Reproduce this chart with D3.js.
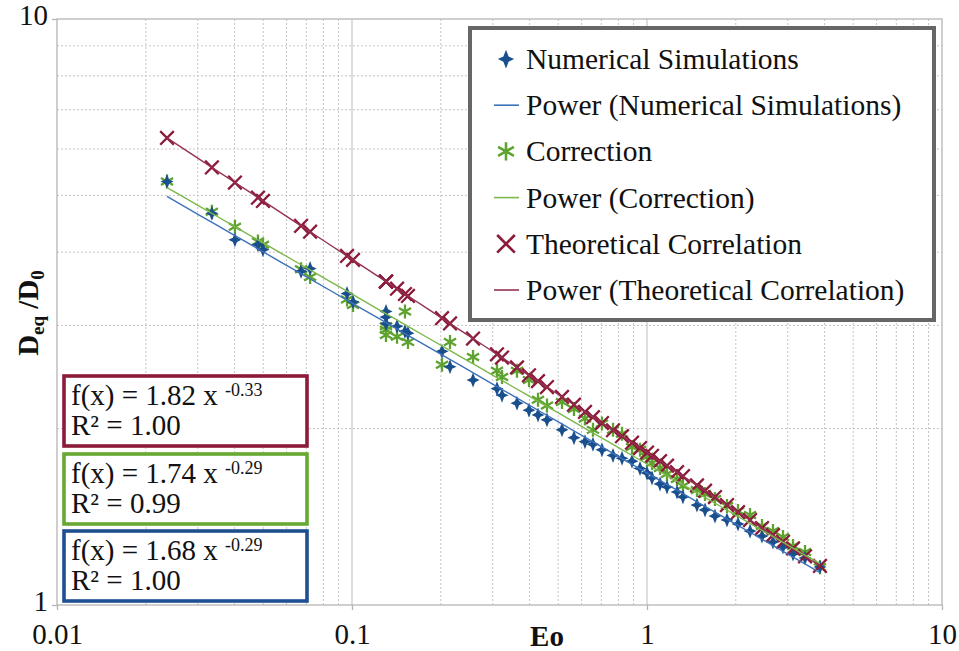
<!DOCTYPE html>
<html>
<head>
<meta charset="utf-8">
<script src="https://cdn.jsdelivr.net/npm/d3@7"></script>
<style>
  html, body { margin: 0; padding: 0; background: #fff; }
  svg { display: block; }
  svg text { font-family: "Liberation Serif", "DejaVu Serif", serif !important; }
</style>
</head>
<body>
<script>
// Eötvös number samples shared by the three series
const eo = [0.0236, 0.0335, 0.0401, 0.0480, 0.0499, 0.0672, 0.0721, 0.0962, 0.1008,
  0.1304, 0.1304, 0.1304, 0.1421, 0.1512, 0.1548, 0.2019, 0.2149, 0.2572, 0.3101,
  0.3225, 0.3625, 0.3981, 0.4271, 0.4581, 0.5151, 0.5655, 0.6163, 0.6559, 0.7037,
  0.7670, 0.8229, 0.8895, 0.9469, 1.000, 1.040, 1.107, 1.169, 1.264, 1.324, 1.477,
  1.573, 1.700, 1.867, 2.035, 2.235, 2.454, 2.673, 2.891, 3.126, 3.433, 3.858];

const numerical = [5.28, 4.66, 4.20, 4.12, 4.04, 3.71, 3.75, 3.40, 3.29, 3.17, 3.10,
  3.02, 2.99, 2.93, 2.91, 2.71, 2.55, 2.42, 2.34, 2.28, 2.21, 2.15, 2.11, 2.07, 1.99,
  1.93, 1.90, 1.88, 1.84, 1.80, 1.78, 1.76, 1.71, 1.68, 1.647, 1.609, 1.590, 1.559,
  1.529, 1.481, 1.453, 1.418, 1.397, 1.375, 1.337, 1.311, 1.281, 1.256, 1.222, 1.203, 1.161];

const correction = [5.28, 4.69, 4.42, 4.17, 4.12, 3.74, 3.63, 3.32, 3.25, 2.95, 2.89,
  2.99, 2.87, 3.17, 2.81, 2.57, 2.81, 2.65, 2.51, 2.45, 2.51, 2.42, 2.24, 2.19, 2.22,
  2.16, 2.08, 1.99, 2.04, 1.99, 1.96, 1.86, 1.84, 1.79, 1.747, 1.713, 1.673, 1.641,
  1.596, 1.571, 1.547, 1.517, 1.475, 1.447, 1.424, 1.364, 1.337, 1.306, 1.261, 1.231, 1.16];

const theoretical = [6.266, 5.581, 5.259, 4.956, 4.893, 4.437, 4.336, 3.941, 3.881,
  3.564, 3.564, 3.564, 3.465, 3.394, 3.368, 3.086, 3.023, 2.849, 2.678, 2.644, 2.544,
  2.466, 2.410, 2.355, 2.265, 2.197, 2.135, 2.092, 2.044, 1.987, 1.941, 1.892, 1.853,
  1.820, 1.797, 1.760, 1.729, 1.685, 1.659, 1.600, 1.567, 1.528, 1.481, 1.440, 1.396,
  1.353, 1.316, 1.282, 1.249, 1.211, 1.166];

// Power-law trendlines f(x) = a * x^b and their R² values
const fitNames = ["Theoretical Correlation", "Correction", "Numerical Simulations"];
const fitA = [1.82, 1.74, 1.68];
const fitB = [-0.33, -0.29, -0.29];
const fitR2 = ["1.00", "0.99", "1.00"];

const xTicks = [0.01, 0.1, 1, 10];
const yTicks = [1, 10];
const legendLabels = ["Numerical Simulations", "Power (Numerical Simulations)", "Correction",
  "Power (Correction)", "Theoretical Correlation", "Power (Theoretical Correlation)"];

const W = 959, H = 651;
const col = {
  num: "#1a4f8e", numLine: "#3d72ba",
  cor: "#5ea22f", corLine: "#7cb84b",
  the: "#8c1b3a", theLine: "#933253"
};

const svg = d3.select("body").append("svg").attr("width", W).attr("height", H);

const x = d3.scaleLog().domain([0.01, 10]).range([57, 942]);
const y = d3.scaleLog().domain([1, 10]).range([605, 19]);

// minor grid (2..9 within each decade), dotted
const minorX = [], minorY = [];
for (let e = -2; e < 1; e++) for (let k = 2; k <= 9; k++) minorX.push(k * Math.pow(10, e));
for (let k = 2; k <= 9; k++) minorY.push(k);

const grid = svg.append("g");
grid.selectAll(".mx").data(minorX).join("line")
  .attr("x1", d => x(d)).attr("x2", d => x(d)).attr("y1", y(1)).attr("y2", y(10))
  .attr("stroke", "#c4c4c4").attr("stroke-width", 1).attr("stroke-dasharray", "2,2");
grid.selectAll(".my").data(minorY).join("line")
  .attr("y1", d => y(d)).attr("y2", d => y(d)).attr("x1", x(0.01)).attr("x2", x(10))
  .attr("stroke", "#c4c4c4").attr("stroke-width", 1).attr("stroke-dasharray", "2,2");
// major grid
grid.selectAll(".Mx").data([0.1, 1]).join("line")
  .attr("x1", d => x(d)).attr("x2", d => x(d)).attr("y1", y(1)).attr("y2", y(10))
  .attr("stroke", "#c8c8c8").attr("stroke-width", 1.2);

// plot frame
svg.append("rect").attr("x", x(0.01)).attr("y", y(10))
  .attr("width", x(10) - x(0.01)).attr("height", y(1) - y(10))
  .attr("fill", "none").attr("stroke", "#b5b5b5").attr("stroke-width", 1.3);

// axes
const fmt = d3.format("~g");
const xAxis = svg.append("g").attr("transform", `translate(0,${y(1)})`)
  .call(d3.axisBottom(x).tickValues(xTicks).tickFormat(fmt).tickSize(5).tickPadding(13));
const yAxis = svg.append("g").attr("transform", `translate(${x(0.01)},0)`)
  .call(d3.axisLeft(y).tickValues(yTicks).tickFormat(fmt).tickSize(5).tickPadding(4));
[xAxis, yAxis].forEach(g => {
  g.select(".domain").remove();
  g.selectAll(".tick line").attr("stroke", "#b5b5b5").attr("stroke-width", 1.3);
  g.selectAll(".tick text").attr("font-size", 29).attr("fill", "#111");
});
yAxis.selectAll(".tick text").attr("dy", "0.18em");

// axis titles
svg.append("text").attr("x", 547).attr("y", 646).attr("text-anchor", "middle")
  .attr("font-size", 29).attr("font-weight", "bold").attr("fill", "#111").text("Eo");

const yt = svg.append("text").attr("transform", "translate(38,313) rotate(-90)")
  .attr("text-anchor", "middle").attr("font-size", 29).attr("font-weight", "bold").attr("fill", "#111");
yt.append("tspan").text("D");
yt.append("tspan").attr("font-size", 19).attr("dy", 6).text("eq");
yt.append("tspan").attr("dy", -6).text(" /D");
yt.append("tspan").attr("font-size", 19).attr("dy", 6).text("0");

// marker shapes
const starPath = (s) => {
  const h = 7.5 * s, w = 6.5 * s, r = 2.1 * s;
  return `M0,${-h}L${r},${-r}L${w},0L${r},${r}L0,${h}L${-r},${r}L${-w},0L${-r},${-r}Z`;
};
const asteriskPath = (s) => {
  const r = 7 * s, cx = r * Math.cos(Math.PI / 6), cy = r * Math.sin(Math.PI / 6);
  return `M0,${-r}L0,${r}M${-cx},${-cy}L${cx},${cy}M${-cx},${cy}L${cx},${-cy}`;
};
const crossPath = (s) => {
  const r = 6.8 * s;
  return `M${-r},${-r}L${r},${r}M${-r},${r}L${r},${-r}`;
};

const plot = svg.append("g");
const pts = (vals) => eo.map((e, i) => [e, vals[i]]);
const xMin = d3.min(eo), xMax = d3.max(eo);
const trend = (a, b) => d3.range(0, 41).map(i => {
  const xv = Math.pow(10, Math.log10(xMin) + (Math.log10(xMax) - Math.log10(xMin)) * i / 40);
  return [xv, a * Math.pow(xv, b)];
});
const line = d3.line().x(d => x(d[0])).y(d => y(d[1]));

// Correction (green asterisks)
plot.append("g").selectAll("path").data(pts(correction)).join("path")
  .attr("transform", d => `translate(${x(d[0])},${y(d[1])})`)
  .attr("d", asteriskPath(1)).attr("stroke", col.cor).attr("stroke-width", 2.3).attr("fill", "none");
// Numerical simulations (blue four-point stars)
plot.append("g").selectAll("path").data(pts(numerical)).join("path")
  .attr("transform", d => `translate(${x(d[0])},${y(d[1])})`)
  .attr("d", starPath(1)).attr("fill", col.num);
// Theoretical correlation (red crosses)
plot.append("g").selectAll("path").data(pts(theoretical)).join("path")
  .attr("transform", d => `translate(${x(d[0])},${y(d[1])})`)
  .attr("d", crossPath(1)).attr("stroke", col.the).attr("stroke-width", 2.3).attr("fill", "none");

// power trendlines
const lineCols = [col.theLine, col.corLine, col.numLine];
fitA.forEach((a, i) => {
  plot.append("path").attr("d", line(trend(a, fitB[i])))
    .attr("fill", "none").attr("stroke", lineCols[i]).attr("stroke-width", 1.4);
});

// equation boxes
const boxCols = ["#8c1b3a", "#67a933", "#1d4f91"];
const boxTop = [376, 454, 531];
fitA.forEach((a, i) => {
  const g = svg.append("g").attr("transform", `translate(64,${boxTop[i]})`);
  g.append("rect").attr("width", 243).attr("height", 70)
    .attr("fill", "#fff").attr("stroke", boxCols[i]).attr("stroke-width", 3.6);
  const t = g.append("text").attr("x", 7).attr("y", 29).attr("font-size", 29).attr("fill", "#111");
  t.append("tspan").text(`f(x) = ${a.toFixed(2)} x `);
  t.append("tspan").attr("font-size", 18).attr("dy", -9).text(fitB[i].toFixed(2));
  g.append("text").attr("x", 7).attr("y", 59).attr("font-size", 29).attr("fill", "#111")
    .text(`R² = ${fitR2[i]}`);
});

// legend
const lg = svg.append("g").attr("transform", "translate(470,28)");
lg.append("rect").attr("width", 464).attr("height", 292)
  .attr("fill", "#fff").attr("stroke", "#666").attr("stroke-width", 4);
const rowY = legendLabels.map((_, i) => 31 + i * 46.2);
legendLabels.forEach((lab, i) => {
  const cy = rowY[i];
  const sx = 36;
  if (i === 0) lg.append("path").attr("transform", `translate(${sx},${cy})`).attr("d", starPath(1.25)).attr("fill", col.num);
  if (i === 2) lg.append("path").attr("transform", `translate(${sx},${cy})`).attr("d", asteriskPath(1.3))
    .attr("stroke", col.cor).attr("stroke-width", 2.6).attr("fill", "none");
  if (i === 4) lg.append("path").attr("transform", `translate(${sx},${cy})`).attr("d", crossPath(1.3))
    .attr("stroke", col.the).attr("stroke-width", 2.6).attr("fill", "none");
  if (i % 2 === 1) {
    const c = [col.numLine, col.corLine, col.theLine][(i - 1) / 2];
    lg.append("line").attr("x1", 24).attr("x2", 49).attr("y1", cy).attr("y2", cy)
      .attr("stroke", c).attr("stroke-width", 1.6);
  }
  lg.append("text").attr("x", 56).attr("y", cy + 10).attr("font-size", 29.5).attr("fill", "#111").text(lab);
});
</script>
</body>
</html>
